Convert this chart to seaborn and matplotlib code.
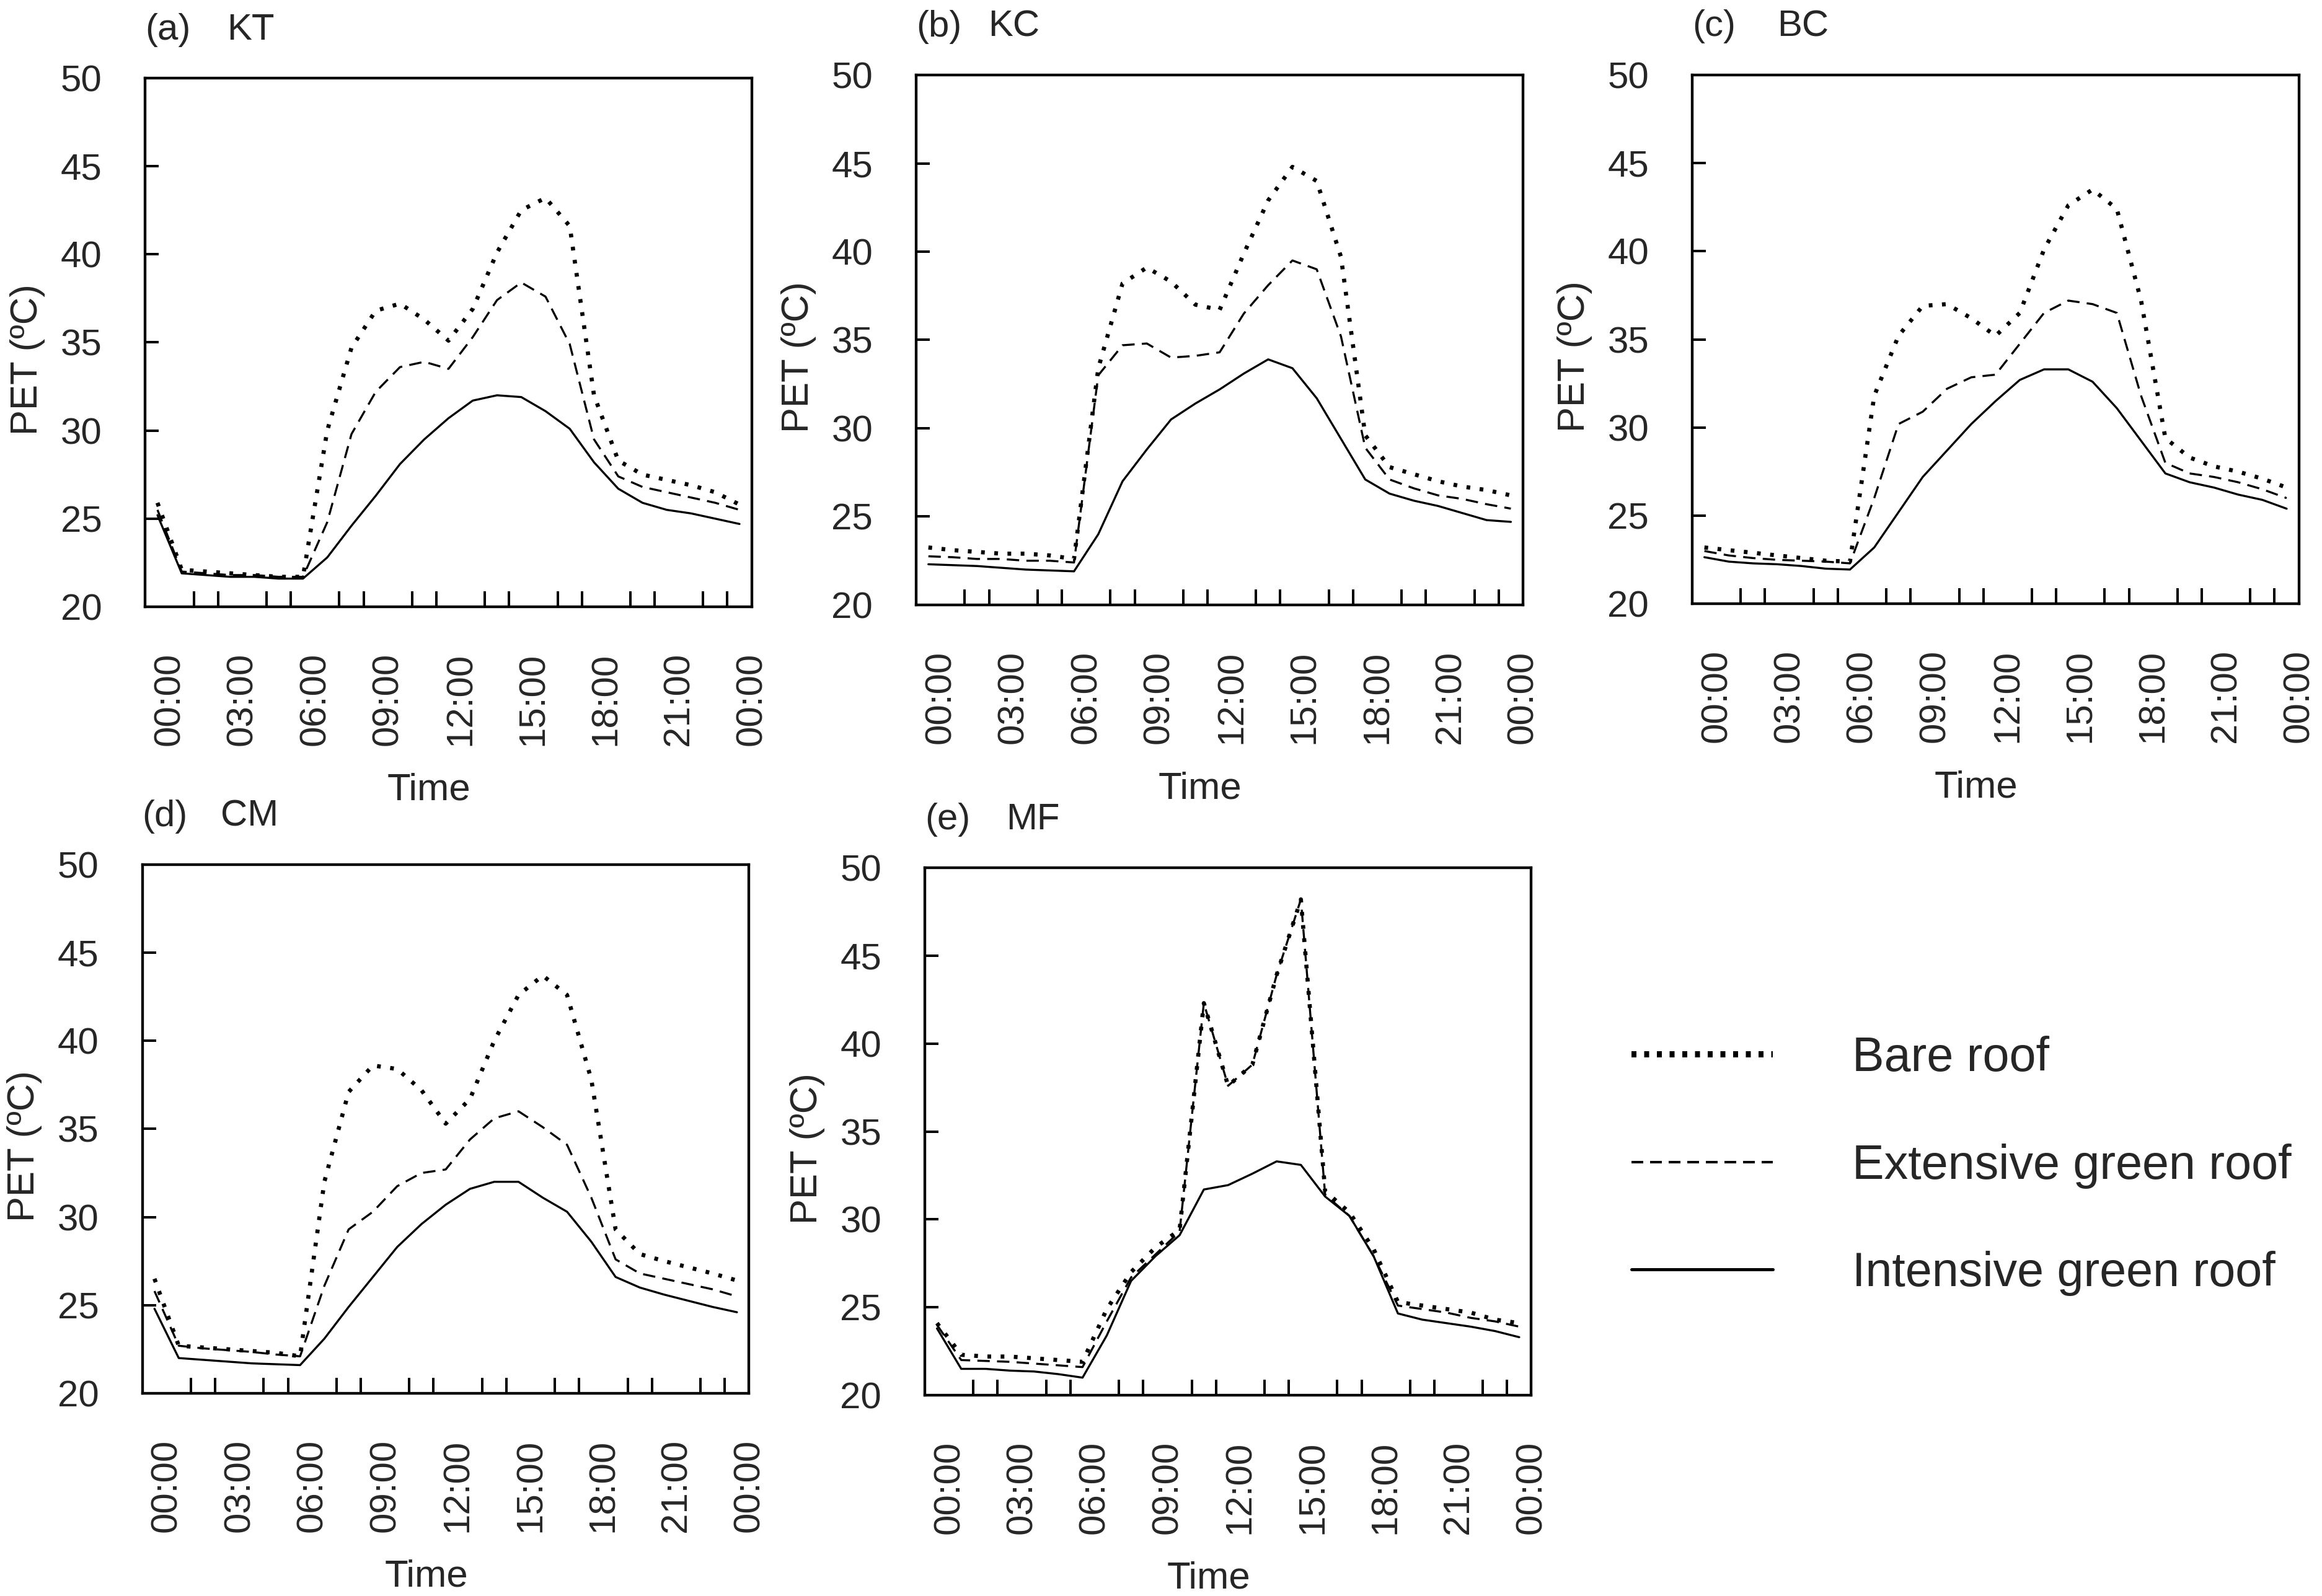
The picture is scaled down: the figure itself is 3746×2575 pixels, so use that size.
import matplotlib
matplotlib.use("Agg")
import matplotlib.pyplot as plt
from matplotlib.lines import Line2D
from matplotlib.ticker import FixedLocator
import pandas as pd
import seaborn as sns

# hourly PET values, 00:00 to 00:00 next day
hours = list(range(25))
tick_hours = [0, 3, 6, 9, 12, 15, 18, 21, 24]
tick_labels = ["00:00", "03:00", "06:00", "09:00", "12:00", "15:00", "18:00", "21:00", "00:00"]
roofs = ["Bare roof", "Extensive green roof", "Intensive green roof"]
sites = ["KT", "KC", "BC", "CM", "MF"]
letters = ["(a)", "(b)", "(c)", "(d)", "(e)"]

kt_bare = [25.9, 22.1, 22.0, 21.9, 21.8, 21.7, 21.7, 30.0, 34.7, 36.8, 37.2, 36.3, 35.1,
           36.9, 40.1, 42.5, 43.2, 41.6, 32.0, 28.3, 27.5, 27.2, 26.9, 26.5, 25.8]
kt_ext = [25.5, 22.0, 21.9, 21.8, 21.8, 21.7, 21.7, 24.8, 29.8, 32.2, 33.6, 33.9, 33.5,
          35.3, 37.4, 38.4, 37.6, 34.9, 29.5, 27.4, 26.8, 26.5, 26.2, 25.9, 25.5]
kt_int = [25.2, 21.9, 21.8, 21.7, 21.7, 21.6, 21.6, 22.8, 24.6, 26.3, 28.1, 29.5, 30.7,
          31.7, 32.0, 31.9, 31.1, 30.1, 28.2, 26.7, 25.9, 25.5, 25.3, 25.0, 24.7]

kc_bare = [23.25, 23.1, 23.0, 22.9, 22.9, 22.8, 22.6, 33.4, 38.2, 39.1, 38.3, 37.0, 36.7,
           39.9, 42.9, 44.8, 44.0, 39.7, 29.6, 27.8, 27.4, 27.0, 26.7, 26.5, 26.2]
kc_ext = [22.75, 22.7, 22.6, 22.6, 22.5, 22.5, 22.4, 33.0, 34.7, 34.8, 34.0, 34.1, 34.3,
          36.5, 38.1, 39.5, 39.0, 35.2, 28.9, 27.1, 26.6, 26.2, 26.0, 25.7, 25.45]
kc_int = [22.3, 22.25, 22.2, 22.1, 22.0, 21.95, 21.9, 24.0, 27.0, 28.8, 30.5, 31.4, 32.2,
          33.1, 33.9, 33.4, 31.7, 29.4, 27.1, 26.3, 25.9, 25.6, 25.2, 24.8, 24.7]

bc_bare = [23.2, 23.05, 22.9, 22.75, 22.6, 22.45, 22.4, 31.8, 35.2, 36.9, 37.0, 36.2, 35.2,
           36.5, 40.1, 42.6, 43.5, 42.4, 37.2, 29.4, 28.3, 27.8, 27.5, 27.1, 26.6]
bc_ext = [23.0, 22.75, 22.6, 22.5, 22.45, 22.4, 22.3, 26.0, 30.2, 30.9, 32.2, 32.85, 33.0,
          34.75, 36.5, 37.2, 37.0, 36.5, 31.8, 28.0, 27.4, 27.2, 26.9, 26.5, 26.0]
bc_int = [22.65, 22.4, 22.3, 22.25, 22.15, 22.0, 21.95, 23.2, 25.2, 27.2, 28.7, 30.2, 31.5,
          32.7, 33.3, 33.3, 32.6, 31.1, 29.25, 27.4, 26.9, 26.6, 26.2, 25.9, 25.4]

cm_bare = [26.5, 22.7, 22.6, 22.5, 22.4, 22.3, 22.1, 32.0, 37.1, 38.6, 38.4, 37.2, 35.3,
           36.7, 40.0, 42.6, 43.7, 42.6, 37.8, 29.3, 27.9, 27.5, 27.15, 26.8, 26.4]
cm_ext = [25.8, 22.7, 22.55, 22.45, 22.35, 22.2, 22.1, 26.1, 29.3, 30.3, 31.75, 32.5, 32.7,
          34.4, 35.6, 36.0, 35.1, 34.1, 31.1, 27.6, 26.8, 26.5, 26.2, 25.9, 25.5]
cm_int = [24.8, 22.0, 21.9, 21.8, 21.7, 21.65, 21.6, 23.1, 24.9, 26.6, 28.3, 29.6, 30.7,
          31.6, 32.0, 32.0, 31.1, 30.3, 28.6, 26.6, 26.0, 25.6, 25.25, 24.9, 24.6]

mf_bare = [24.1, 22.3, 22.2, 22.2, 22.1, 22.0, 21.9, 24.9, 27.0, 28.4, 29.4, 42.3, 37.6,
           38.8, 43.9, 48.2, 31.6, 30.4, 28.3, 25.3, 25.1, 24.9, 24.7, 24.3, 24.1]
mf_ext = [24.0, 22.0, 21.95, 21.9, 21.8, 21.7, 21.6, 24.2, 26.7, 28.0, 29.3, 42.3, 37.6,
          38.8, 43.9, 48.2, 31.4, 30.2, 27.9, 25.1, 24.9, 24.7, 24.4, 24.2, 23.9]
mf_int = [23.8, 21.5, 21.5, 21.4, 21.35, 21.2, 21.0, 23.4, 26.5, 27.9, 29.1, 31.7, 31.95,
          32.6, 33.3, 33.1, 31.3, 30.2, 27.9, 24.65, 24.3, 24.1, 23.9, 23.65, 23.3]

series = [(kt_bare, kt_ext, kt_int), (kc_bare, kc_ext, kc_int), (bc_bare, bc_ext, bc_int),
          (cm_bare, cm_ext, cm_int), (mf_bare, mf_ext, mf_int)]

sns.set_style("ticks")
plt.rcParams["font.family"] = ["Liberation Sans", "DejaVu Sans"]

fig = plt.figure(figsize=(3746 / 240, 2575 / 240), dpi=240)

# panel rectangles [left, bottom, width, height]
rects = [[0.0626, 0.6198, 0.2611, 0.3313],
         [0.3946, 0.6210, 0.2613, 0.3320],
         [0.7288, 0.6216, 0.2612, 0.3315],
         [0.0613, 0.1270, 0.2613, 0.3313],
         [0.3983, 0.1258, 0.2612, 0.3305]]
name_x = [0.135, 0.118, 0.140, 0.129, 0.134]

line_kw = {
    "Intensive green roof": dict(linestyle="-", linewidth=1.0),
    "Extensive green roof": dict(linestyle=(0, (6, 3.5)), linewidth=1.0),
    "Bare roof": dict(linestyle=(0, (0.9, 2.3)), linewidth=2.0),
}

for k, (site, letter, rect) in enumerate(zip(sites, letters, rects)):
    bare, ext, inten = series[k]
    df = pd.DataFrame({
        "hour": hours * 3,
        "PET": bare + ext + inten,
        "roof": [roofs[0]] * 25 + [roofs[1]] * 25 + [roofs[2]] * 25,
    })
    ax = fig.add_axes(rect)
    for roof in ["Intensive green roof", "Extensive green roof", "Bare roof"]:
        sns.lineplot(data=df[df["roof"] == roof], x="hour", y="PET", ax=ax,
                     color="black", errorbar=None, **line_kw[roof])

    ax.set_xlim(-0.5, 24.5)
    ax.set_ylim(20, 50)
    # labels sit half a category to the right, like the original category axis
    ax.xaxis.set_major_locator(FixedLocator([h + 0.5 for h in tick_hours]))
    ax.set_xticklabels(tick_labels, rotation=90)
    ax.xaxis.set_minor_locator(FixedLocator([h + 0.5 for h in hours[:-1]]))
    ax.tick_params(axis="x", which="major", direction="in", length=0, pad=22, labelsize=18)
    ax.tick_params(axis="x", which="minor", direction="in", length=7.5, width=1.2,
                   color="black", bottom=True, top=False)
    ax.set_yticks(range(20, 51, 5))
    ax.tick_params(axis="y", direction="in", length=6.6, width=1.2, color="black",
                   pad=21, labelsize=18, right=False)
    for sp in ax.spines.values():
        sp.set_visible(True)
        sp.set_linewidth(1.3)
        sp.set_color("black")

    ax.set_xlabel("Time", fontsize=18.5)
    ax.xaxis.set_label_coords(0.468, -0.314)
    ax.set_ylabel("PET (ºC)", fontsize=18.5)
    ax.yaxis.set_label_coords(-0.165, 0.468)

    ax.text(0.0, 1.073, letter, transform=ax.transAxes, fontsize=18, va="baseline")
    ax.text(name_x[k], 1.073, site, transform=ax.transAxes, fontsize=18, va="baseline")

handles = [
    Line2D([], [], color="black", linewidth=3.0, linestyle=(0, (0.8, 1.25))),
    Line2D([], [], color="black", linewidth=1.2, linestyle=(0, (4.75, 2.75))),
    Line2D([], [], color="black", linewidth=1.5, linestyle="-"),
]
fig.legend(handles, roofs, loc="upper left", bbox_to_anchor=(0.7026, 0.351),
           frameon=False, fontsize=23.2, handlelength=2.95, handletextpad=1.65,
           labelspacing=1.30, borderpad=0, borderaxespad=0)

fig.savefig("out.png", dpi=240)
